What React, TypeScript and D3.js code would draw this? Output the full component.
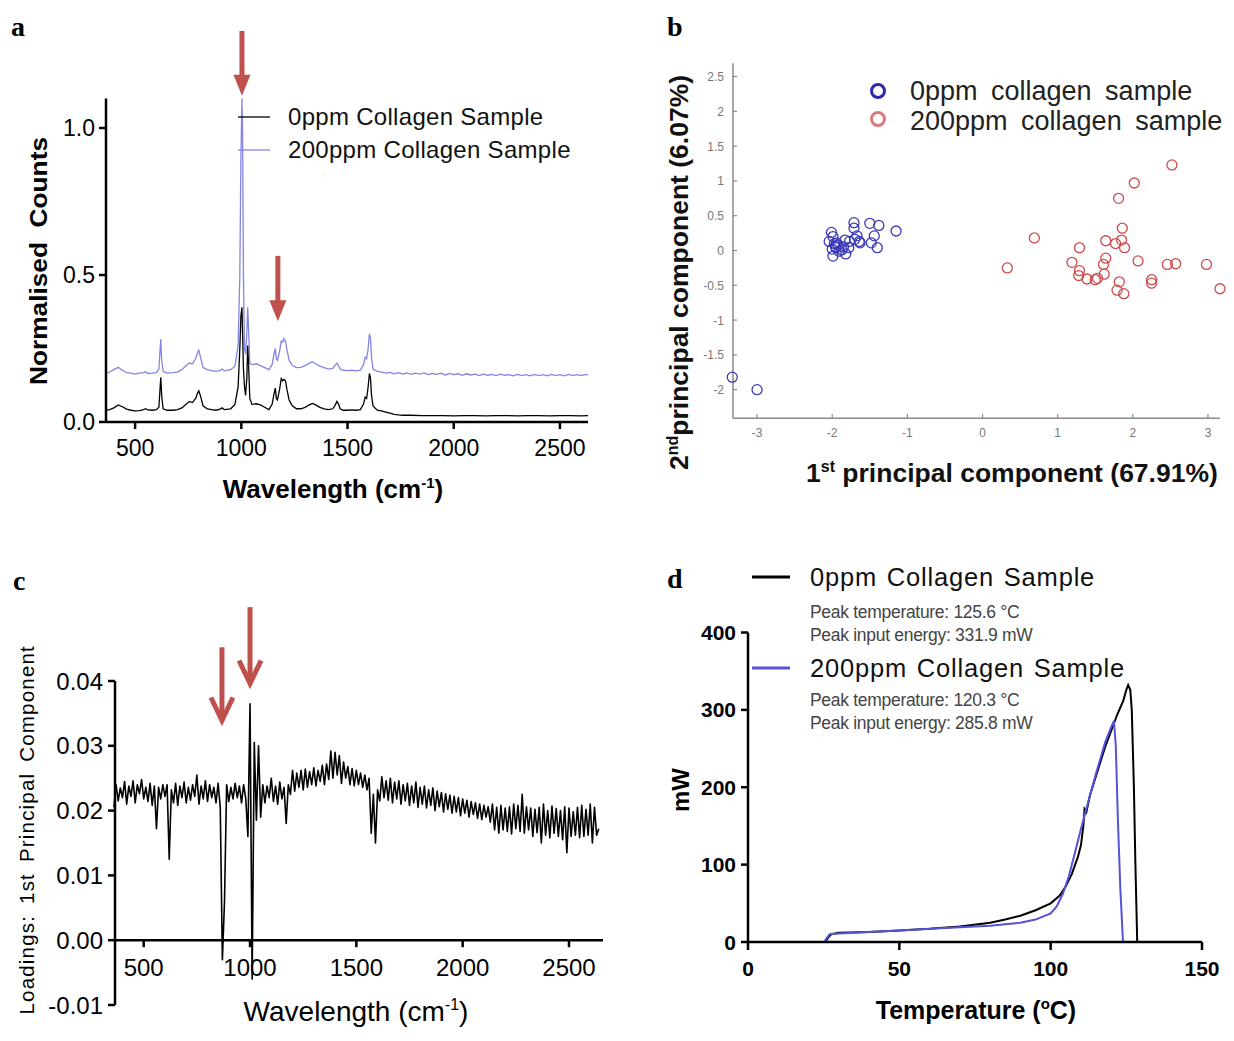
import React from "react";
import * as d3 from "d3";

// ---------------- Panel a: Raman spectra ----------------
const A_LABELS = ["0ppm Collagen Sample", "200ppm Collagen Sample"];
const A_X_TICKS = [500, 1000, 1500, 2000, 2500];
const A_Y_TICKS = [0, 0.5, 1.0];
// [wavenumber cm-1, normalised counts]
const A_0PPM: [number, number][] = [
  [360, 0.04], [380, 0.042], [400, 0.048], [420, 0.058], [440, 0.052], [460, 0.044], [480, 0.04], [500, 0.038],
  [520, 0.039], [540, 0.042], [550, 0.045], [560, 0.041], [580, 0.04], [600, 0.042], [612, 0.05], [618, 0.12],
  [621, 0.152], [625, 0.09], [632, 0.045], [650, 0.04], [680, 0.04], [700, 0.042], [720, 0.048], [740, 0.06],
  [755, 0.07], [770, 0.066], [785, 0.08], [795, 0.1], [800, 0.106], [808, 0.088], [820, 0.055], [840, 0.045],
  [860, 0.042], [880, 0.04], [900, 0.044], [910, 0.048], [920, 0.042], [950, 0.045], [970, 0.06], [985, 0.12],
  [993, 0.25], [998, 0.36], [1003, 0.39], [1006, 0.3], [1010, 0.18], [1015, 0.12], [1020, 0.09], [1026, 0.15],
  [1030, 0.26], [1034, 0.2], [1040, 0.08], [1050, 0.06], [1070, 0.062], [1090, 0.058], [1110, 0.05], [1130, 0.042],
  [1145, 0.06], [1155, 0.1], [1160, 0.115], [1165, 0.08], [1170, 0.075], [1180, 0.11], [1188, 0.148], [1195, 0.14],
  [1200, 0.145], [1208, 0.14], [1215, 0.11], [1225, 0.075], [1240, 0.055], [1260, 0.045], [1280, 0.045], [1300, 0.05],
  [1320, 0.058], [1335, 0.063], [1350, 0.058], [1370, 0.05], [1390, 0.045], [1410, 0.042], [1430, 0.045], [1440, 0.055],
  [1450, 0.07], [1458, 0.06], [1465, 0.045], [1480, 0.04], [1500, 0.04], [1520, 0.041], [1540, 0.04], [1560, 0.042],
  [1575, 0.06], [1583, 0.085], [1590, 0.08], [1597, 0.12], [1603, 0.165], [1608, 0.15], [1613, 0.09], [1620, 0.055],
  [1640, 0.04], [1660, 0.038], [1680, 0.034], [1700, 0.03], [1720, 0.026], [1740, 0.024], [1760, 0.023], [1800, 0.023],
  [1850, 0.022], [1900, 0.022], [1950, 0.022], [2000, 0.021], [2050, 0.022], [2100, 0.022], [2150, 0.021], [2200, 0.022],
  [2250, 0.022], [2300, 0.021], [2350, 0.022], [2400, 0.022], [2450, 0.021], [2500, 0.022], [2550, 0.022], [2600, 0.021],
  [2632, 0.022],
];
const A_200PPM: [number, number][] = [
  [360, 0.165], [380, 0.17], [400, 0.178], [420, 0.186], [440, 0.176], [460, 0.168], [480, 0.166], [500, 0.163],
  [520, 0.166], [540, 0.168], [550, 0.171], [560, 0.165], [580, 0.166], [600, 0.168], [612, 0.18], [618, 0.25],
  [621, 0.282], [625, 0.21], [632, 0.172], [650, 0.166], [680, 0.168], [700, 0.17], [720, 0.178], [740, 0.192],
  [755, 0.2], [770, 0.198], [785, 0.215], [795, 0.238], [800, 0.244], [808, 0.22], [820, 0.185], [840, 0.178],
  [860, 0.175], [880, 0.172], [900, 0.175], [910, 0.18], [920, 0.174], [950, 0.178], [970, 0.19], [985, 0.26],
  [993, 0.5], [998, 0.9], [1003, 1.1], [1006, 0.98], [1010, 0.5], [1015, 0.25], [1020, 0.23], [1026, 0.3],
  [1030, 0.39], [1034, 0.32], [1040, 0.2], [1050, 0.195], [1070, 0.198], [1090, 0.192], [1110, 0.185], [1130, 0.178],
  [1145, 0.195], [1155, 0.235], [1160, 0.25], [1165, 0.215], [1170, 0.21], [1180, 0.24], [1188, 0.275], [1195, 0.272],
  [1200, 0.284], [1208, 0.275], [1215, 0.245], [1225, 0.21], [1240, 0.192], [1260, 0.185], [1280, 0.186], [1300, 0.192],
  [1320, 0.2], [1335, 0.205], [1350, 0.198], [1370, 0.19], [1390, 0.185], [1410, 0.18], [1430, 0.182], [1440, 0.192],
  [1450, 0.2], [1458, 0.192], [1465, 0.18], [1480, 0.176], [1500, 0.175], [1520, 0.176], [1540, 0.174], [1560, 0.176],
  [1575, 0.195], [1583, 0.22], [1590, 0.215], [1597, 0.25], [1603, 0.3], [1608, 0.285], [1613, 0.22], [1620, 0.18],
  [1640, 0.172], [1660, 0.17], [1680, 0.166], [1700, 0.169], [1720, 0.164], [1740, 0.168], [1760, 0.163], [1780, 0.167],
  [1800, 0.162], [1820, 0.166], [1840, 0.163], [1860, 0.167], [1880, 0.161], [1900, 0.165], [1920, 0.162], [1940, 0.166],
  [1960, 0.16], [1980, 0.165], [2000, 0.161], [2020, 0.164], [2040, 0.159], [2060, 0.164], [2080, 0.16], [2100, 0.163],
  [2120, 0.158], [2140, 0.163], [2160, 0.159], [2180, 0.162], [2200, 0.158], [2220, 0.163], [2240, 0.159], [2260, 0.161],
  [2280, 0.157], [2300, 0.162], [2320, 0.158], [2340, 0.161], [2360, 0.157], [2380, 0.162], [2400, 0.158], [2420, 0.161],
  [2440, 0.157], [2460, 0.162], [2480, 0.158], [2500, 0.161], [2520, 0.157], [2540, 0.162], [2560, 0.158], [2580, 0.161],
  [2600, 0.158], [2620, 0.162], [2632, 0.159],
];
// arrows: wavenumber, arrow tail value, arrow tip value
const A_ARROWS = [
  { wave: 1003, from: 1.33, to: 1.11 },
  { wave: 1172, from: 0.565, to: 0.343 },
];

// ---------------- Panel b: PCA scores ----------------
const B_LABELS = ["0ppm collagen sample", "200ppm collagen sample"];
const B_X_TICKS = [-3, -2, -1, 0, 1, 2, 3];
const B_Y_TICKS = [-2, -1.5, -1, -0.5, 0, 0.5, 1, 1.5, 2, 2.5];
// [PC1, PC2]
const B_0PPM: [number, number][] = [
  [-3.33, -1.82], [-3.0, -2.0], [-2.01, 0.26], [-1.99, 0.2], [-2.04, 0.13], [-1.97, 0.1], [-1.94, 0.11], [-1.95, 0.04],
  [-1.99, -0.08], [-1.91, -0.01], [-1.87, 0.01], [-1.83, 0.15], [-1.82, -0.05], [-1.78, 0.04], [-1.71, 0.4], [-1.71, 0.32],
  [-1.67, 0.21], [-1.64, 0.13], [-1.7, 0.16], [-1.5, 0.39], [-1.38, 0.36], [-1.44, 0.21], [-1.48, 0.11], [-1.4, 0.04],
  [-1.15, 0.28], [-1.92, 0.08], [-1.85, 0.05], [-1.77, 0.13], [-1.63, 0.11], [-1.96, 0.06], [-2.0, 0.02],
];
const B_200PPM: [number, number][] = [
  [0.33, -0.25], [0.69, 0.18], [1.19, -0.17], [1.29, 0.04], [1.29, -0.29], [1.28, -0.36], [1.39, -0.41], [1.5, -0.42],
  [1.53, -0.4], [1.62, -0.34], [1.61, -0.2], [1.64, -0.11], [1.64, 0.14], [1.77, 0.1], [1.82, -0.45], [1.79, -0.57],
  [1.88, -0.62], [1.81, 0.75], [1.85, 0.15], [1.86, 0.32], [1.89, 0.04], [2.02, 0.97], [2.07, -0.15], [2.25, -0.42],
  [2.25, -0.47], [2.46, -0.2], [2.57, -0.19], [2.52, 1.23], [2.98, -0.2], [3.16, -0.55],
];

// ---------------- Panel c: PC1 loadings ----------------
const C_START = 360; // cm-1, first sample
const C_STEP = 10; // cm-1 between samples
// loadings in units of 1e-4, read every 10 cm-1 from 360 to 2640
const C_LOADINGS_E4 = [
  205, 240, 215, 235, 220, 245, 210, 238, 222, 246,
  212, 240, 226, 248, 218, 236, 214, 242, 208, 238,
  172, 236, 218, 240, 222, 240, 125, 232, 212, 242,
  208, 238, 220, 244, 212, 236, 216, 240, 222, 255,
  210, 238, 218, 246, 214, 240, 220, 236, 212, 242,
  205, -30, 60, 240, 214, 236, 218, 242, 220, 238,
  212, 240, 218, 160, 365, -60, 305, 185, 300, 190,
  240, 212, 238, 220, 250, 214, 238, 210, 244, 218,
  236, 180, 240, 225, 262, 230, 258, 236, 262, 232,
  264, 236, 260, 240, 266, 238, 262, 245, 270, 240,
  272, 248, 292, 250, 290, 255, 285, 242, 275, 250,
  268, 240, 265, 238, 262, 240, 258, 236, 255, 232,
  250, 165, 225, 150, 232, 215, 252, 220, 246, 216,
  250, 212, 244, 218, 246, 210, 240, 215, 242, 208,
  238, 212, 244, 205, 236, 210, 238, 204, 232, 208,
  235, 200, 230, 206, 228, 198, 226, 202, 224, 196,
  222, 198, 220, 192, 218, 196, 216, 190, 214, 194,
  212, 188, 210, 186, 208, 190, 206, 182, 210, 170,
  205, 165, 208, 170, 204, 168, 206, 164, 210, 172,
  208, 168, 225, 165, 206, 170, 204, 160, 202, 166,
  205, 150, 210, 162, 200, 158, 207, 165, 203, 160,
  200, 155, 206, 135, 204, 160, 198, 162, 205, 158,
  208, 160, 202, 162, 210, 150, 205, 162, 172,
];
const C_X_TICKS = [500, 1000, 1500, 2000, 2500];
const C_Y_TICKS = [-0.01, 0, 0.01, 0.02, 0.03, 0.04];
const C_ARROWS = [
  { wave: 868, from: 0.0452, to: 0.0336 },
  { wave: 1000, from: 0.0514, to: 0.0393 },
];

// ---------------- Panel d: DSC curves ----------------
const D_LABELS = ["0ppm Collagen Sample", "200ppm Collagen Sample"];
const D_ANNOT = [
  ["Peak temperature: 125.6 \u00B0C", "Peak input energy: 331.9 mW"],
  ["Peak temperature: 120.3 \u00B0C", "Peak input energy: 285.8 mW"],
];
const D_X_TICKS = [0, 50, 100, 150];
const D_Y_TICKS = [0, 100, 200, 300, 400];
// [temperature °C, mW]
const D_0PPM: [number, number][] = [
  [25.5, 0], [26.5, 6], [27.5, 10], [30, 12], [40, 13], [50, 15], [60, 17], [70, 20], [80, 25], [85, 29], [90, 34],
  [95, 41], [100, 50], [103, 60], [105, 72], [107, 88], [109, 110], [110, 125], [110.8, 150], [111.2, 172],
  [111.8, 168], [113, 190], [115, 215], [118, 252], [120, 273], [122, 294], [124, 312], [125, 326], [125.6, 332],
  [126.3, 326], [126.8, 300], [127.5, 200], [128, 100], [128.6, 0], [131, 0],
];
const D_200PPM: [number, number][] = [
  [25.2, 0], [26, 5], [27, 10], [30, 11], [40, 13], [50, 15], [60, 17], [70, 19], [80, 21], [90, 25], [95, 29],
  [100, 37], [102, 46], [104, 62], [106, 85], [108, 115], [110, 146], [112, 175], [115, 218], [118, 258], [120, 278],
  [120.9, 285.8], [121.5, 255], [122.2, 160], [123, 70], [123.9, 0], [134.8, 0],
];

const RED = "#c0504d";
const SANS = "'Liberation Sans', Arial, sans-serif";
const SERIF = "'Liberation Serif', 'Times New Roman', serif";

function ArrowFilled({ x, y1, y2 }: { x: number; y1: number; y2: number }) {
  return (
    <g fill={RED}>
      <rect x={x - 2.5} y={y1} width={5} height={y2 - y1 - 19} />
      <path d={`M${x - 8.5},${y2 - 21}L${x + 8.5},${y2 - 21}L${x},${y2}Z`} />
    </g>
  );
}

function ArrowOpen({ x, y1, y2 }: { x: number; y1: number; y2: number }) {
  return (
    <g stroke={RED} strokeWidth={5} fill="none">
      <line x1={x} x2={x} y1={y1} y2={y2 - 3} />
      <polyline points={`${x - 11},${y2 - 25} ${x},${y2 - 2} ${x + 11},${y2 - 25}`} strokeLinejoin="miter" />
    </g>
  );
}

export default function App() {
  // panel a scales
  const xa = d3.scaleLinear().domain([363, 2632]).range([106, 588]);
  const ya = d3.scaleLinear().domain([0, 1.1]).range([422, 98.6]);
  const lineA = d3.line<[number, number]>().x((d) => xa(d[0])).y((d) => ya(d[1]));

  // panel b scales
  const xb = d3.scaleLinear().domain([-3.32, 3.16]).range([733, 1220]);
  const yb = d3.scaleLinear().domain([-2.41, 2.69]).range([418.2, 63.3]);

  // panel c scales
  const xc = d3.scaleLinear().domain([365, 2660]).range([115, 603]);
  const yc = d3.scaleLinear().domain([-0.01, 0.04]).range([1005, 681]);
  const lineC = d3
    .line<number>()
    .x((_, i) => xc(C_START + i * C_STEP))
    .y((d) => yc(d / 10000));

  // panel d scales
  const xd = d3.scaleLinear().domain([0, 150]).range([748, 1202]);
  const yd = d3.scaleLinear().domain([0, 400]).range([942, 632.5]);
  const lineD = d3.line<[number, number]>().x((d) => xd(d[0])).y((d) => yd(d[1]));

  const BLUE_A = "#8585e2";
  const BLUE_D = "#5353db";
  const B_BLUE = "#3a3ab8";
  const B_RED = "#cf4a4a";
  const GRAY = "#8a8a8a";

  return (
    <svg
      width={1234}
      height={1041}
      style={{ position: "absolute", left: 0, top: 0, background: "#fff" }}
      fontFamily={SANS}
    >
      <rect x={0} y={0} width={1234} height={1041} fill="#fff" />

      {/* ================= Panel a ================= */}
      <text x={11} y={36} fontFamily={SERIF} fontWeight="bold" fontSize={28}>a</text>
      <path d={lineA(A_200PPM) || ""} fill="none" stroke={BLUE_A} strokeWidth={1.3} />
      <path d={lineA(A_0PPM) || ""} fill="none" stroke="#000" strokeWidth={1.3} />
      {/* axes */}
      <line x1={106} x2={106} y1={98.6} y2={422} stroke="#000" strokeWidth={2.5} />
      <line x1={106} x2={588} y1={422} y2={422} stroke="#000" strokeWidth={2.5} />
      {A_Y_TICKS.map((t) => (
        <g key={"ay" + t}>
          <line x1={99} x2={106} y1={ya(t)} y2={ya(t)} stroke="#000" strokeWidth={2.5} />
          <text x={95} y={ya(t) + 8} textAnchor="end" fontSize={23}>{t.toFixed(1)}</text>
        </g>
      ))}
      {A_X_TICKS.map((t) => (
        <g key={"ax" + t}>
          <line x1={xa(t)} x2={xa(t)} y1={422} y2={429} stroke="#000" strokeWidth={2.5} />
          <text x={xa(t)} y={456} textAnchor="middle" fontSize={23}>{t}</text>
        </g>
      ))}
      <text transform="translate(47,261) rotate(-90)" textAnchor="middle" fontSize={24} fontWeight="bold" textLength={248} lengthAdjust="spacingAndGlyphs">
        {"Normalised\u00A0\u00A0Counts"}
      </text>
      <text x={333} y={498} textAnchor="middle" fontSize={26} fontWeight="bold">
        Wavelength (cm<tspan dy={-10} fontSize={15}>-1</tspan><tspan dy={10}>)</tspan>
      </text>
      {/* legend */}
      <line x1={238} x2={270} y1={117} y2={117} stroke="#000" strokeWidth={1.3} />
      <line x1={238} x2={270} y1={150} y2={150} stroke={BLUE_A} strokeWidth={1.3} />
      <text x={288} y={125} fontSize={24} letterSpacing={0.3} fill="#111">{A_LABELS[0]}</text>
      <text x={288} y={158} fontSize={24} letterSpacing={0.3} fill="#111">{A_LABELS[1]}</text>
      {A_ARROWS.map((a, i) => (
        <ArrowFilled key={"aa" + i} x={xa(a.wave)} y1={ya(a.from)} y2={ya(a.to)} />
      ))}

      {/* ================= Panel b ================= */}
      <text x={667} y={36} fontFamily={SERIF} fontWeight="bold" fontSize={28}>b</text>
      <line x1={733} x2={733} y1={63.3} y2={418.2} stroke={GRAY} strokeWidth={1.5} />
      <line x1={733} x2={1220} y1={418.2} y2={418.2} stroke={GRAY} strokeWidth={1.5} />
      {B_Y_TICKS.map((t) => (
        <g key={"by" + t}>
          <line x1={733} x2={737} y1={yb(t)} y2={yb(t)} stroke={GRAY} strokeWidth={1.2} />
          <text x={724} y={yb(t) + 4.5} textAnchor="end" fontSize={12} fill="#777">{t}</text>
        </g>
      ))}
      {B_X_TICKS.map((t) => (
        <g key={"bx" + t}>
          <line x1={xb(t)} x2={xb(t)} y1={418.2} y2={414} stroke={GRAY} strokeWidth={1.2} />
          <text x={xb(t)} y={437} textAnchor="middle" fontSize={12} fill="#777">{t}</text>
        </g>
      ))}
      {B_0PPM.map((d, i) => (
        <circle key={"b0" + i} cx={xb(d[0])} cy={yb(d[1])} r={5} fill="none" stroke={B_BLUE} strokeWidth={1.3} />
      ))}
      {B_200PPM.map((d, i) => (
        <circle key={"b2" + i} cx={xb(d[0])} cy={yb(d[1])} r={5} fill="none" stroke={B_RED} strokeWidth={1.3} />
      ))}
      <circle cx={878} cy={91} r={6.5} fill="none" stroke="#2a2aa8" strokeWidth={3} />
      <circle cx={878} cy={119} r={6.5} fill="none" stroke="#d97a7e" strokeWidth={3} />
      <text x={910} y={100} fontSize={27} wordSpacing={6} fill="#222">{B_LABELS[0]}</text>
      <text x={910} y={130} fontSize={27} wordSpacing={6} fill="#222">{B_LABELS[1]}</text>
      <text x={806} y={482} fontSize={26.5} fontWeight="bold" fill="#111">
        1<tspan dy={-10} fontSize={16}>st</tspan><tspan dy={10}> principal component (67.91%)</tspan>
      </text>
      <text transform="translate(688,470) rotate(-90)" fontSize={26.5} fontWeight="bold" fill="#111">
        2<tspan dy={-10} fontSize={16}>nd</tspan><tspan dy={10}>principal component (6.07%)</tspan>
      </text>

      {/* ================= Panel c ================= */}
      <text x={13} y={590} fontFamily={SERIF} fontWeight="bold" fontSize={28}>c</text>
      <path d={lineC(C_LOADINGS_E4) || ""} fill="none" stroke="#000" strokeWidth={1.6} strokeLinejoin="round" />
      <line x1={115} x2={115} y1={681} y2={1005} stroke="#000" strokeWidth={2.5} />
      <line x1={115} x2={603} y1={yc(0)} y2={yc(0)} stroke="#000" strokeWidth={2.5} />
      {C_Y_TICKS.map((t) => (
        <g key={"cy" + t}>
          <line x1={108} x2={115} y1={yc(t)} y2={yc(t)} stroke="#000" strokeWidth={2.5} />
          <text x={103} y={yc(t) + 8.5} textAnchor="end" fontSize={24}>{t.toFixed(2)}</text>
        </g>
      ))}
      {C_X_TICKS.map((t) => (
        <g key={"cx" + t}>
          <line x1={xc(t)} x2={xc(t)} y1={yc(0)} y2={yc(0) + 7} stroke="#000" strokeWidth={2.5} />
          <text x={xc(t)} y={976} textAnchor="middle" fontSize={24}>{t}</text>
        </g>
      ))}
      <text x={356} y={1021} textAnchor="middle" fontSize={28}>
        Wavelength (cm<tspan dy={-11} fontSize={16}>-1</tspan><tspan dy={11}>)</tspan>
      </text>
      <text transform="translate(34,645) rotate(-90)" textAnchor="end" fontSize={20.5} letterSpacing={1.2} wordSpacing={4}>
        Loadings: 1st Principal Component
      </text>
      {C_ARROWS.map((a, i) => (
        <ArrowOpen key={"ca" + i} x={xc(a.wave)} y1={yc(a.from)} y2={yc(a.to)} />
      ))}

      {/* ================= Panel d ================= */}
      <text x={667} y={588} fontFamily={SERIF} fontWeight="bold" fontSize={28}>d</text>
      <path d={lineD(D_0PPM) || ""} fill="none" stroke="#000" strokeWidth={2} />
      <path d={lineD(D_200PPM) || ""} fill="none" stroke={BLUE_D} strokeWidth={2} />
      <line x1={748} x2={748} y1={632.5} y2={942} stroke="#000" strokeWidth={2.5} />
      <line x1={748} x2={1202} y1={942} y2={942} stroke="#000" strokeWidth={2.5} />
      {D_Y_TICKS.map((t) => (
        <g key={"dy" + t}>
          <line x1={741} x2={748} y1={yd(t)} y2={yd(t)} stroke="#000" strokeWidth={2.5} />
          <text x={736} y={yd(t) + 7.5} textAnchor="end" fontSize={21} fontWeight="bold">{t}</text>
        </g>
      ))}
      {D_X_TICKS.map((t) => (
        <g key={"dx" + t}>
          <line x1={xd(t)} x2={xd(t)} y1={942} y2={950} stroke="#000" strokeWidth={2.5} />
          <text x={xd(t)} y={976} textAnchor="middle" fontSize={21} fontWeight="bold">{t}</text>
        </g>
      ))}
      <text transform="translate(689,790) rotate(-90)" textAnchor="middle" fontSize={24} fontWeight="bold">mW</text>
      <text x={976} y={1019} textAnchor="middle" fontSize={25} fontWeight="bold">
        Temperature (<tspan dy={-10} fontSize={15}>o</tspan><tspan dy={10}>C)</tspan>
      </text>
      {/* legend */}
      <line x1={752} x2={790} y1={577} y2={577} stroke="#000" strokeWidth={3} />
      <line x1={752} x2={790} y1={668} y2={668} stroke={BLUE_D} strokeWidth={3} />
      <text x={810} y={586} fontSize={25.5} letterSpacing={0.8} wordSpacing={2} fill="#111">{D_LABELS[0]}</text>
      <text x={810} y={677} fontSize={25.5} letterSpacing={0.8} wordSpacing={2} fill="#111">{D_LABELS[1]}</text>
      <text x={810} y={618} fontSize={17.5} fill="#444" letterSpacing={-0.3}>{D_ANNOT[0][0]}</text>
      <text x={810} y={641} fontSize={17.5} fill="#444" letterSpacing={-0.3}>{D_ANNOT[0][1]}</text>
      <text x={810} y={706} fontSize={17.5} fill="#444" letterSpacing={-0.3}>{D_ANNOT[1][0]}</text>
      <text x={810} y={729} fontSize={17.5} fill="#444" letterSpacing={-0.3}>{D_ANNOT[1][1]}</text>
    </svg>
  );
}
